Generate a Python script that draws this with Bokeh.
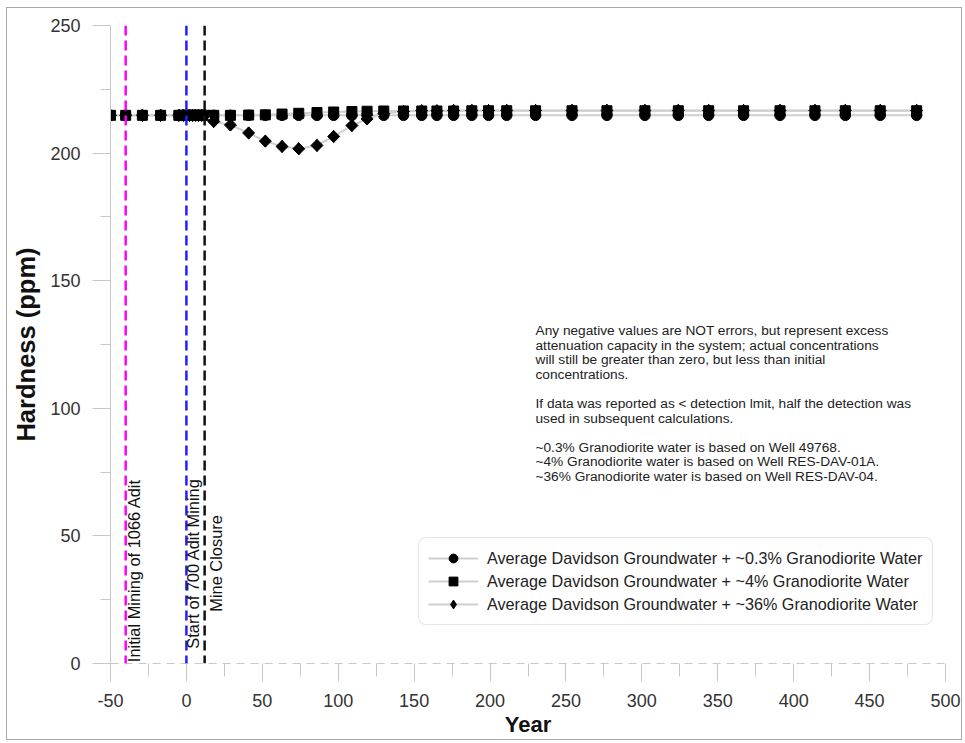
import math
from bokeh.plotting import figure
from bokeh.models import Span, Label, Legend, LegendItem, FixedTicker
from bokeh.embed import file_html
from bokeh.resources import INLINE

# ---------------- data ----------------
years = [-50, -40, -29, -17, -5, -2, 0, 2, 4, 6, 8, 10, 12, 18, 29, 41, 52, 63, 74, 86,
         97, 109, 119, 130, 143, 155, 165, 176, 188, 199, 211, 230, 254, 277, 302,
         324, 344, 367, 391, 414, 434, 457, 481]

hard_03 = [214.8] * len(years)

hard_4 = [214.8, 214.8, 214.8, 214.8, 214.8, 214.8, 214.8, 214.8, 214.8, 214.8, 214.8, 214.8,
          214.8, 214.8, 214.8, 214.9, 215.0, 215.3, 215.6, 215.9, 216.1, 216.3, 216.4, 216.5,
          216.5, 216.5, 216.5, 216.5, 216.6, 216.6, 216.6, 216.6, 216.6, 216.6, 216.6,
          216.6, 216.6, 216.6, 216.6, 216.6, 216.6, 216.6, 216.6]

hard_36 = [214.8, 214.8, 214.8, 214.8, 214.8, 214.8, 214.8, 214.8, 214.8, 214.8, 214.8, 214.8,
           214.8, 212.4, 211.0, 207.9, 204.7, 202.6, 201.7, 203.0, 206.5, 210.8, 213.4, 215.5,
           216.3, 216.6, 216.6, 216.7, 216.7, 216.7, 216.7, 216.7, 216.7, 216.7, 216.7,
           216.7, 216.7, 216.7, 216.7, 216.7, 216.7, 216.7, 216.7]

series_labels = ["Average Davidson Groundwater + ~0.3% Granodiorite Water",
                 "Average Davidson Groundwater + ~4% Granodiorite Water",
                 "Average Davidson Groundwater + ~36% Granodiorite Water"]

event_years = [-40, 0, 12]
event_labels = ["Initial Mining of 1066 Adit", "Start of 700 Adit Mining", "Mine Closure"]

x_ticks = [-50, 0, 50, 100, 150, 200, 250, 300, 350, 400, 450, 500]
x_minor = [-25, 25, 75, 125, 175, 225, 275, 325, 375, 425, 475]
y_ticks = [0, 50, 100, 150, 200, 250]
y_minor = [25, 75, 125, 175, 225]

notes = ["Any negative values are NOT errors, but represent excess",
         "attenuation capacity in the system; actual concentrations",
         "will still be greater than zero, but less than initial",
         "concentrations.",
         "",
         "If data was reported as < detection lmit, half the detection was",
         "used in subsequent calculations.",
         "",
         "~0.3% Granodiorite water is based on Well 49768.",
         "~4% Granodiorite water is based on Well RES-DAV-01A.",
         "~36% Granodiorite water is based on Well RES-DAV-04."]

# ---------------- figure ----------------
FONT = "Liberation Sans"
p = figure(width=956, height=733, x_range=(-50, 500), y_range=(0, 250),
           output_backend="svg", toolbar_location=None,
           min_border_left=103, min_border_right=18, min_border_top=17, min_border_bottom=78,
           x_axis_label="Year", y_axis_label="Hardness (ppm)")
p.margin = (7, 1, 1, 6)
p.grid.visible = False
p.outline_line_color = None
p.background_fill_color = "white"
p.border_fill_color = "white"

for ax in (p.xaxis[0], p.yaxis[0]):
    ax.axis_line_color = "#c8c8c8"
    ax.axis_line_width = 1
    ax.major_tick_line_color = "#c8c8c8"
    ax.minor_tick_line_color = "#c8c8c8"
    ax.major_tick_in = 0
    ax.major_tick_out = 18
    ax.minor_tick_in = 0
    ax.major_label_text_font = FONT
    ax.major_label_text_font_size = "18px"
    ax.major_label_text_color = "#333333"
    ax.axis_label_text_font = FONT
    ax.axis_label_text_font_style = "bold"
    ax.axis_label_text_color = "#111111"
    ax.major_label_standoff = 12

p.xaxis.ticker = FixedTicker(ticks=x_ticks, minor_ticks=x_minor)
p.yaxis.ticker = FixedTicker(ticks=y_ticks, minor_ticks=y_minor)
p.xaxis.major_label_overrides = {t: str(t) for t in x_ticks}
p.xaxis.minor_tick_out = 13
p.yaxis.minor_tick_out = 10
p.xaxis.axis_line_dash = "8 6"
p.xaxis.axis_label_text_font_size = "22px"
p.yaxis.axis_label_text_font_size = "25.5px"
p.xaxis.axis_label_standoff = 2
p.yaxis.axis_label_standoff = 7

# ---------------- series ----------------
LINE_C = "#cfcfcf"
items = []
# circle series
lr1 = p.line(years, hard_03, line_color=LINE_C, line_width=2)
sr1 = p.scatter(years, hard_03, marker="circle", size=10.5, fill_color="black", line_color="black")
items.append(LegendItem(label=series_labels[0], renderers=[lr1, sr1]))
# square series
lr2 = p.line(years, hard_4, line_color=LINE_C, line_width=2)
sr2 = p.scatter(years, hard_4, marker="square", size=10, fill_color="black", line_color="black")
items.append(LegendItem(label=series_labels[1], renderers=[lr2, sr2]))
# diamond series (rotated squares in the plot, diamond glyph for the legend)
lr3 = p.line(years, hard_36, line_color=LINE_C, line_width=2)
dr3 = p.scatter(years, hard_36, marker="diamond", size=12, fill_color="black", line_color="black")
sr3 = p.scatter(years, hard_36, marker="square", size=8.5, angle=math.pi / 4,
                fill_color="black", line_color="black")
items.append(LegendItem(label=series_labels[2], renderers=[lr3, dr3]))

# ---------------- event lines ----------------
event_colors = ["#ff00ff", "#2020ff", "#111111"]
for xv, col in zip(event_years, event_colors):
    p.add_layout(Span(location=xv, dimension="height", line_color=col,
                      line_width=2.5, line_dash="10 5"))

label_dx = [5.8, 4.3, 7.6]
label_y = [36.4, 39.2, 39.2]
for xv, txt, dx, ly in zip(event_years, event_labels, label_dx, label_y):
    p.add_layout(Label(x=xv + dx, y=ly, text=txt, angle=math.pi / 2,
                       text_align="center", text_baseline="middle",
                       text_font=FONT, text_font_size="16.4px", text_color="#111111"))

# ---------------- notes ----------------
PX_X = 550 / 835.0   # data units per pixel (x)
PX_Y = 250 / 638.0   # data units per pixel (y)
note_x = -50 + (535 - 110) * PX_X
for i, line in enumerate(notes):
    if not line:
        continue
    ypx = 330 + i * 14.6
    p.add_layout(Label(x=note_x, y=(663 - ypx) * PX_Y, text=line,
                       text_align="left", text_baseline="middle",
                       text_font=FONT, text_font_size="13.7px", text_color="#222222"))

# ---------------- legend ----------------
legend = Legend(items=items, location=(308, 38), orientation="vertical",
                label_text_font=FONT, label_text_font_size="16.2px", label_text_color="#222222",
                border_line_color="#cccccc", border_line_width=1,
                background_fill_color="white", background_fill_alpha=1,
                padding=9, margin=0, spacing=1, glyph_width=50, glyph_height=22,
                label_height=22, label_standoff=9)
try:
    legend.border_radius = 8
except Exception:
    pass
p.add_layout(legend, "center")

p.styles = {"border": "1px solid #a8a8a8"}

open("out.html", "w").write(file_html(p, INLINE))
